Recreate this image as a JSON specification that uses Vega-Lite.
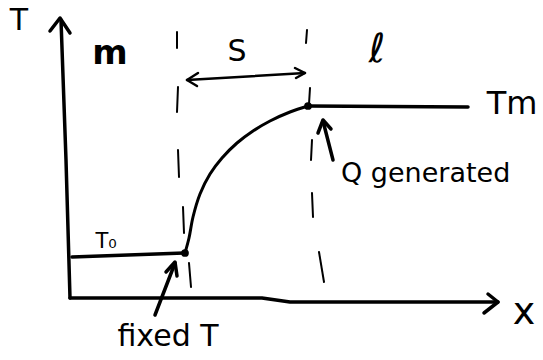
{
  "$schema": "https://vega.github.io/schema/vega-lite/v6.json",
  "width": 543,
  "height": 360,
  "padding": 0,
  "autosize": {"type": "fit", "contains": "padding"},
  "background": "white",
  "config": {"view": {"stroke": null}},
  "datasets": {
    "solid": [
      {"g": "yaxis", "o": 1, "x": 61, "y": 20},
      {"g": "yaxis", "o": 2, "x": 66, "y": 160},
      {"g": "yaxis", "o": 3, "x": 70, "y": 298},
      {"g": "yarrow", "o": 1, "x": 50, "y": 31},
      {"g": "yarrow", "o": 2, "x": 60, "y": 18},
      {"g": "yarrow", "o": 3, "x": 70, "y": 33},
      {"g": "xaxis", "o": 1, "x": 70, "y": 298},
      {"g": "xaxis", "o": 2, "x": 200, "y": 298},
      {"g": "xaxis", "o": 3, "x": 262, "y": 298},
      {"g": "xaxis", "o": 4, "x": 290, "y": 302},
      {"g": "xaxis", "o": 5, "x": 498, "y": 302},
      {"g": "xarrow", "o": 1, "x": 488, "y": 294},
      {"g": "xarrow", "o": 2, "x": 498, "y": 302},
      {"g": "xarrow", "o": 3, "x": 484, "y": 313},
      {"g": "T0", "o": 1, "x": 72, "y": 257},
      {"g": "T0", "o": 2, "x": 184, "y": 253},
      {"g": "Tm", "o": 1, "x": 308, "y": 106},
      {"g": "Tm", "o": 2, "x": 468, "y": 107},
      {"g": "qshaft", "o": 1, "x": 333, "y": 160},
      {"g": "qshaft", "o": 2, "x": 323, "y": 121},
      {"g": "qhead", "o": 1, "x": 318, "y": 133},
      {"g": "qhead", "o": 2, "x": 323, "y": 120},
      {"g": "qhead", "o": 3, "x": 331, "y": 129},
      {"g": "fshaft", "o": 1, "x": 155, "y": 315},
      {"g": "fshaft", "o": 2, "x": 175, "y": 263},
      {"g": "fhead", "o": 1, "x": 166, "y": 272},
      {"g": "fhead", "o": 2, "x": 175, "y": 262},
      {"g": "fhead", "o": 3, "x": 177, "y": 276}
    ],
    "thin": [
      {"g": "sline", "o": 1, "x": 187, "y": 80},
      {"g": "sline", "o": 2, "x": 305, "y": 73},
      {"g": "sleft", "o": 1, "x": 198, "y": 73},
      {"g": "sleft", "o": 2, "x": 187, "y": 80},
      {"g": "sleft", "o": 3, "x": 197, "y": 86},
      {"g": "sright", "o": 1, "x": 295, "y": 68},
      {"g": "sright", "o": 2, "x": 305, "y": 73},
      {"g": "sright", "o": 3, "x": 296, "y": 78}
    ],
    "curve": [
      {"o": 1, "x": 185, "y": 253},
      {"o": 2, "x": 189, "y": 238},
      {"o": 3, "x": 193, "y": 217},
      {"o": 4, "x": 200, "y": 194},
      {"o": 5, "x": 210, "y": 174},
      {"o": 6, "x": 222, "y": 158},
      {"o": 7, "x": 237, "y": 143},
      {"o": 8, "x": 253, "y": 131},
      {"o": 9, "x": 270, "y": 121},
      {"o": 10, "x": 290, "y": 112},
      {"o": 11, "x": 308, "y": 106}
    ],
    "dashed": [
      {"g": "a1", "o": 1, "x": 177, "y": 32},
      {"g": "a1", "o": 2, "x": 177, "y": 48},
      {"g": "a2", "o": 1, "x": 178, "y": 87},
      {"g": "a2", "o": 2, "x": 177, "y": 112},
      {"g": "a3", "o": 1, "x": 178, "y": 150},
      {"g": "a3", "o": 2, "x": 179, "y": 177},
      {"g": "a4", "o": 1, "x": 183, "y": 207},
      {"g": "a4", "o": 2, "x": 184, "y": 233},
      {"g": "a5", "o": 1, "x": 189, "y": 263},
      {"g": "a5", "o": 2, "x": 191, "y": 287},
      {"g": "b1", "o": 1, "x": 307, "y": 30},
      {"g": "b1", "o": 2, "x": 306, "y": 43},
      {"g": "b2", "o": 1, "x": 310, "y": 88},
      {"g": "b2", "o": 2, "x": 309, "y": 104},
      {"g": "b3", "o": 1, "x": 312, "y": 140},
      {"g": "b3", "o": 2, "x": 311, "y": 160},
      {"g": "b4", "o": 1, "x": 312, "y": 193},
      {"g": "b4", "o": 2, "x": 313, "y": 217},
      {"g": "b5", "o": 1, "x": 319, "y": 252},
      {"g": "b5", "o": 2, "x": 324, "y": 282}
    ],
    "dots": [
      {"x": 185, "y": 253},
      {"x": 308, "y": 106}
    ]
  },
  "encoding": {
    "x": {"field": "x", "type": "quantitative", "scale": {"domain": [0, 543], "nice": false, "zero": false}, "axis": null},
    "y": {"field": "y", "type": "quantitative", "scale": {"domain": [0, 360], "nice": false, "zero": false, "reverse": true}, "axis": null}
  },
  "layer": [
    {
      "data": {"name": "solid"},
      "mark": {"type": "line", "color": "black", "strokeWidth": 3.5, "strokeCap": "round", "strokeJoin": "round"},
      "encoding": {"detail": {"field": "g"}, "order": {"field": "o"}}
    },
    {
      "data": {"name": "thin"},
      "mark": {"type": "line", "color": "black", "strokeWidth": 2.5, "strokeCap": "round", "strokeJoin": "round"},
      "encoding": {"detail": {"field": "g"}, "order": {"field": "o"}}
    },
    {
      "data": {"name": "curve"},
      "mark": {"type": "line", "color": "black", "strokeWidth": 3, "interpolate": "catmull-rom", "strokeCap": "round"},
      "encoding": {"order": {"field": "o"}}
    },
    {
      "data": {"name": "dashed"},
      "mark": {"type": "line", "color": "black", "strokeWidth": 2, "strokeCap": "round"},
      "encoding": {"detail": {"field": "g"}, "order": {"field": "o"}}
    },
    {
      "data": {"name": "dots"},
      "mark": {"type": "point", "filled": true, "color": "black", "size": 60, "opacity": 1}
    },
    {
      "data": {"values": [
        {"label": "T", "x": 19, "y": 21},
        {"label": "S", "x": 237, "y": 52},
        {"label": "fixed T", "x": 168, "y": 337}
      ]},
      "mark": {"type": "text", "font": "DejaVu Sans", "fontSize": 30, "color": "black", "baseline": "middle", "align": "center"},
      "encoding": {"text": {"field": "label"}}
    },
    {
      "data": {"values": [
        {"label": "m", "x": 110, "y": 54}
      ]},
      "mark": {"type": "text", "font": "DejaVu Sans", "fontSize": 34, "fontWeight": "bold", "color": "black", "baseline": "middle", "align": "center"},
      "encoding": {"text": {"field": "label"}}
    },
    {
      "data": {"values": [
        {"label": "ℓ", "x": 377, "y": 50}
      ]},
      "mark": {"type": "text", "font": "DejaVu Sans", "fontSize": 40, "color": "black", "baseline": "middle", "align": "center"},
      "encoding": {"text": {"field": "label"}}
    },
    {
      "data": {"values": [
        {"label": "Tm", "x": 512, "y": 104}
      ]},
      "mark": {"type": "text", "font": "DejaVu Sans", "fontSize": 32, "color": "black", "baseline": "middle", "align": "center"},
      "encoding": {"text": {"field": "label"}}
    },
    {
      "data": {"values": [
        {"label": "Q generated", "x": 341, "y": 174}
      ]},
      "mark": {"type": "text", "font": "DejaVu Sans", "fontSize": 27, "color": "black", "baseline": "middle", "align": "left"},
      "encoding": {"text": {"field": "label"}}
    },
    {
      "data": {"values": [
        {"label": "T₀", "x": 106, "y": 242}
      ]},
      "mark": {"type": "text", "font": "DejaVu Sans", "fontSize": 21, "color": "black", "baseline": "middle", "align": "center"},
      "encoding": {"text": {"field": "label"}}
    },
    {
      "data": {"values": [
        {"label": "x", "x": 524, "y": 313}
      ]},
      "mark": {"type": "text", "font": "DejaVu Sans", "fontSize": 38, "color": "black", "baseline": "middle", "align": "center"},
      "encoding": {"text": {"field": "label"}}
    }
  ]
}
